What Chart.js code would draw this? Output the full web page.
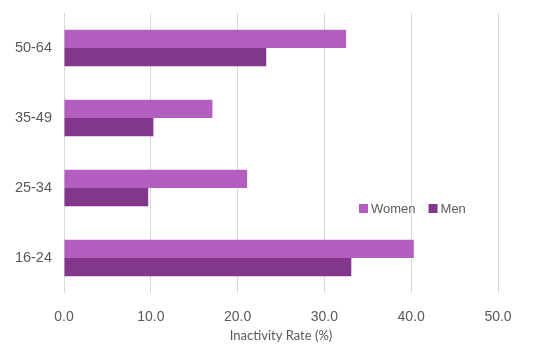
<!DOCTYPE html>
<html>
<head>
<meta charset="utf-8">
<script src="https://cdn.jsdelivr.net/npm/chart.js@4.4.0/dist/chart.umd.min.js"></script>
<style>
  html, body { margin: 0; padding: 0; background: #fff; }
  #wrap { width: 549px; height: 358px; position: relative; }
</style>
</head>
<body>
<div id="wrap"><canvas id="chart"></canvas></div>
<script>
// данные (сверху вниз, как на картинке)
const ageGroups = ['50-64', '35-49', '25-34', '16-24'];
const womenRates = [32.5, 17.1, 21.1, 40.3];
const menRates = [23.3, 10.3, 9.7, 33.1];
const xTicks = [0, 10, 20, 30, 40, 50];

const womenColor = '#B35FC0';
const menColor = '#82368C';
const textGray = '#595959';

// легенда внутри области графика
const innerLegend = {
    id: 'innerLegend',
    afterDraw(chart) {
        const ctx = chart.ctx;
        let x = 359;
        const y = 208.5;
        ctx.save();
        ctx.font = '13px "Liberation Sans", Arial, sans-serif';
        ctx.textBaseline = 'middle';
        ctx.textAlign = 'left';
        chart.data.datasets.forEach(ds => {
            ctx.fillStyle = ds.backgroundColor;
            ctx.fillRect(x, y - 4.5, 9, 9);
            ctx.fillStyle = textGray;
            ctx.fillText(ds.label, x + 12, y + 0.5);
            x += 12 + ctx.measureText(ds.label).width + 13;
        });
        ctx.restore();
    }
};

new Chart(document.getElementById('chart'), {
    type: 'bar',
    data: {
        labels: ageGroups,
        datasets: [
            {
                label: 'Women',
                data: womenRates,
                backgroundColor: womenColor,
                borderWidth: 0,
                categoryPercentage: 0.52,
                barPercentage: 1.0
            },
            {
                label: 'Men',
                data: menRates,
                backgroundColor: menColor,
                borderWidth: 0,
                categoryPercentage: 0.52,
                barPercentage: 1.0
            }
        ]
    },
    options: {
        indexAxis: 'y',
        responsive: true,
        maintainAspectRatio: false,
        animation: false,
        layout: { padding: { top: 13, right: 51, bottom: 10, left: 0 } },
        plugins: {
            legend: { display: false },
            tooltip: { enabled: false }
        },
        scales: {
            x: {
                min: 0,
                max: 50,
                afterBuildTicks: scale => { scale.ticks = xTicks.map(v => ({ value: v })); },
                afterFit: scale => {
                    scale.height = 55;
                    scale.paddingLeft = 0;
                    scale.paddingRight = 0;
                },
                grid: { color: '#D9D9D9', lineWidth: 1, drawTicks: false },
                border: { display: false },
                ticks: {
                    padding: 16,
                    color: textGray,
                    font: { family: '"Liberation Sans", Arial, sans-serif', size: 14 },
                    callback: v => v.toFixed(1)
                },
                title: {
                    display: true,
                    text: 'Inactivity Rate (%)',
                    color: textGray,
                    font: { family: 'Lato, sans-serif', size: 13 },
                    padding: { top: 4, bottom: 4 }
                }
            },
            y: {
                afterFit: scale => {
                    scale.width = 64;
                    scale.paddingTop = 0;
                    scale.paddingBottom = 0;
                },
                grid: { display: false, drawTicks: false },
                border: { display: false },
                ticks: {
                    padding: 12,
                    color: textGray,
                    font: { family: '"Liberation Sans", Arial, sans-serif', size: 14.5 }
                }
            }
        }
    },
    plugins: [innerLegend]
});
</script>
</body>
</html>
